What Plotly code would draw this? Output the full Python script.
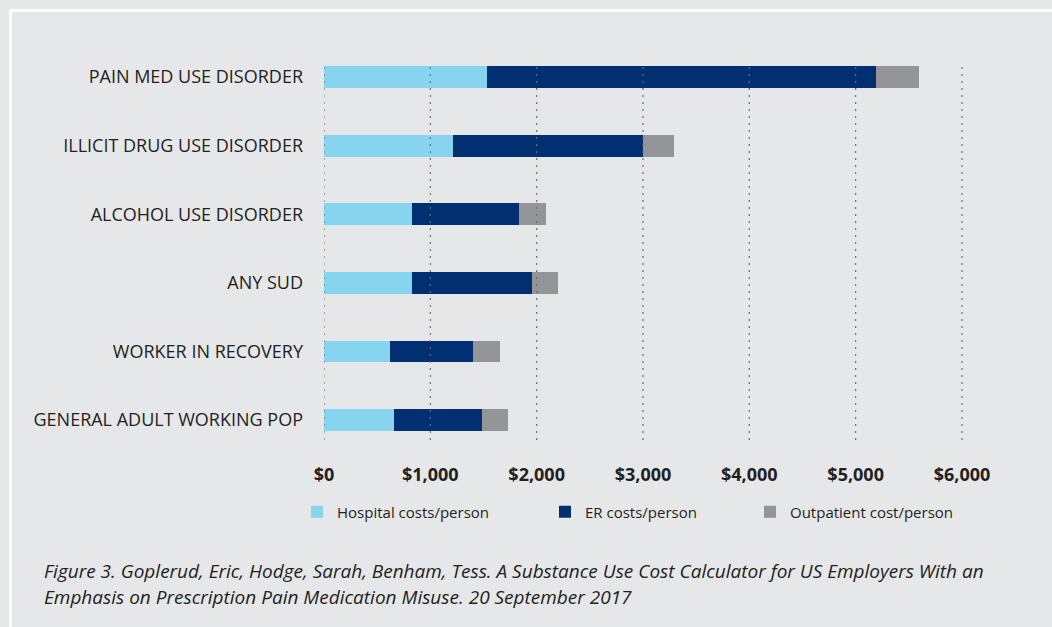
import plotly.graph_objects as go

# ---- data ----
categories = [
    "GENERAL ADULT WORKING POP",
    "WORKER IN RECOVERY",
    "ANY SUD",
    "ALCOHOL USE DISORDER",
    "ILLICIT DRUG USE DISORDER",
    "PAIN MED USE DISORDER",
]
hospital = [659, 621, 828, 828, 1213, 1533]
er = [827, 781, 1129, 1006, 1788, 3660]
outpatient = [245, 254, 244, 254, 291, 404]
series_names = ["Hospital costs/person", "ER costs/person", "Outpatient cost/person"]
tick_vals = [0, 1000, 2000, 3000, 4000, 5000, 6000]
tick_text = ["$0", "$1,000", "$2,000", "$3,000", "$4,000", "$5,000", "$6,000"]
caption_lines = [
    "Figure 3. Goplerud, Eric, Hodge, Sarah, Benham, Tess. A Substance Use Cost Calculator for US Employers With an",
    "Emphasis on Prescription Pain Medication Misuse. 20 September 2017",
]

# ---- style ----
W, H = 1052, 627
ML, MR, MT, MB = 324, 52, 62, 187
BG = "#e6e7e8"
TXT = "#231f20"
colors = ["#87d4ee", "#003072", "#939598"]
FONT = "Open Sans"

fig = go.Figure()
legend_ids = ["legend2", "legend3", "legend4"]
for vals, name, col, lg in zip([hospital, er, outpatient], series_names, colors, legend_ids):
    fig.add_trace(go.Bar(
        y=categories, x=vals, name=name, orientation="h",
        marker=dict(color=col, line=dict(width=0)),
        width=0.32, legend=lg, showlegend=True,
    ))

pw = W - ML - MR
ph = H - MT - MB


def px_to_paper_x(px):
    return (px - ML) / pw


def py_to_paper_y(py):
    return (H - MB - py) / ph


legend_px = [311, 559, 764]
legend_common = dict(
    xref="container", yref="container", yanchor="middle", xanchor="left",
    bgcolor="rgba(0,0,0,0)", font=dict(family=FONT, size=15, color=TXT),
    itemwidth=30, borderwidth=0,
)
leg_layout = {}
for lg, px in zip(legend_ids, legend_px):
    leg_layout[lg] = dict(x=(px - 14) / W, y=1 - 512 / H, **legend_common)

shapes = [
    dict(type="line", xref="paper", yref="paper",
         x0=px_to_paper_x(10.5), x1=px_to_paper_x(10.5),
         y0=py_to_paper_y(H + 5), y1=py_to_paper_y(10.5),
         line=dict(color="white", width=3), layer="below"),
    dict(type="line", xref="paper", yref="paper",
         x0=px_to_paper_x(10.5), x1=px_to_paper_x(W + 5),
         y0=py_to_paper_y(10.5), y1=py_to_paper_y(10.5),
         line=dict(color="white", width=3), layer="below"),
]
# dotted gridlines drawn above the bars, at the tick values
for v in tick_vals:
    shapes.append(dict(type="line", xref="x", yref="paper", x0=v, x1=v, y0=0, y1=1,
                       line=dict(color="#6d6e71", width=1.2, dash="2px,5px"), layer="above"))

annotations = []
for i, line in enumerate(caption_lines):
    annotations.append(dict(
        text=line, xref="paper", yref="paper",
        x=px_to_paper_x(42), y=py_to_paper_y(571 + 26 * i),
        xanchor="left", yanchor="middle", showarrow=False,
        font=dict(family=FONT, size=19, color=TXT, style="italic"),
    ))

fig.update_layout(
    width=W, height=H,
    margin=dict(l=ML, r=MR, t=MT, b=MB, autoexpand=False),
    paper_bgcolor=BG, plot_bgcolor=BG,
    barmode="stack",
    bargap=0.68,
    showlegend=True,
    xaxis=dict(
        range=[0, (W - MR - ML) / 106.33 * 1000],
        tickvals=tick_vals, ticktext=tick_text,
        showgrid=False, zeroline=False, showline=False,
        ticks="", ticklabelstandoff=22,
        tickfont=dict(family=FONT, size=18, color=TXT, weight="bold"),
    ),
    yaxis=dict(
        categoryorder="array", categoryarray=categories,
        range=[-0.29, 5.22],
        showgrid=False, zeroline=False, showline=False,
        ticks="", ticklabelstandoff=20,
        tickfont=dict(family=FONT, size=18, color=TXT),
    ),
    shapes=shapes,
    annotations=annotations,
    **leg_layout,
)

fig.write_html(
    "out.html",
    config={"displayModeBar": False},
    post_script="document.body.style.margin='0';document.body.style.background='%s';" % BG,
)
